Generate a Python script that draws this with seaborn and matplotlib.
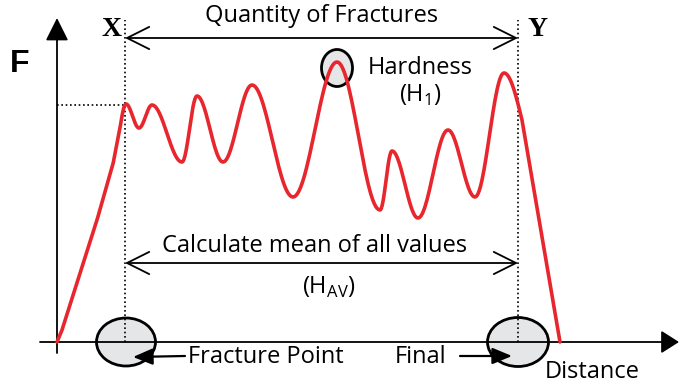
import numpy as np
import pandas as pd
import seaborn as sns
import matplotlib.pyplot as plt
from matplotlib.patches import Ellipse

# knots of the force curve (distance, force) and how each segment bends
knot_dist = [0, 5, 40, 56, 63, 69, 82, 95, 125, 140, 166, 195, 236, 280, 323, 335, 361, 391, 418, 447, 465, 503]
knot_force = [0, 12, 122, 178, 214, 238, 214, 237, 180, 246, 180, 257, 145, 280, 132, 191, 124, 212, 145, 269, 222, 0]
seg_shape = ['lin', 'lin', 'lin', 'lin', 'out'] + ['cos'] * 14 + ['in', 'lin']

x_mark = 68      # fracture point X
y_mark = 461     # final point Y
peak_h1 = (280, 274)

sns.set_style('white')
plt.rcParams['font.family'] = ['Open Sans', 'DejaVu Sans']
plt.rcParams['text.color'] = 'black'
plt.rcParams['mathtext.fontset'] = 'custom'
plt.rcParams['mathtext.rm'] = 'Open Sans'


def ease(t, kind):
    if kind == 'cos':
        return (1 - np.cos(np.pi * t)) / 2
    if kind == 'out':
        return np.sin(np.pi / 2 * t)
    if kind == 'in':
        return 1 - np.cos(np.pi / 2 * t)
    return t


xs, ys = [], []
for i, kind in enumerate(seg_shape):
    t = np.linspace(0, 1, 30)
    xs.extend(knot_dist[i] + (knot_dist[i + 1] - knot_dist[i]) * t)
    ys.extend(knot_force[i] + (knot_force[i + 1] - knot_force[i]) * ease(t, kind))
df = pd.DataFrame({'distance': xs, 'force': ys})

fig = plt.figure(figsize=(6.8, 3.87), dpi=100)
ax = fig.add_axes([0, 0, 1, 1])
ax.set_xlim(-57, 623)
ax.set_ylim(-45, 342)
ax.set_axis_off()

# axes with arrow heads
ax.annotate('', xy=(0, 324), xytext=(0, -11),
            arrowprops=dict(arrowstyle='-|>,head_length=14,head_width=7', mutation_scale=1,
                            color='black', lw=1.3, shrinkA=0, shrinkB=0), zorder=3)
ax.annotate('', xy=(622, 0), xytext=(-17, 0),
            arrowprops=dict(arrowstyle='-|>,head_length=11,head_width=7', mutation_scale=1,
                            color='black', lw=1.3, shrinkA=0, shrinkB=0), zorder=3)

# ellipses
ell_kw = dict(facecolor='#e5e6e8', edgecolor='black', lw=2, zorder=1)
ax.add_patch(Ellipse(peak_h1, 31, 37, **ell_kw))
ax.add_patch(Ellipse((x_mark + 1, 0), 59, 48, **ell_kw))
ax.add_patch(Ellipse((y_mark, 0), 61, 49, **ell_kw))

# dotted guides
dot = dict(color='black', lw=1.2, linestyle=(0, (1, 1.6)), zorder=2)
ax.plot([x_mark, x_mark], [0, 322], **dot)
ax.plot([y_mark, y_mark], [0, 322], **dot)
ax.plot([0, x_mark], [237, 237], **dot)

sns.lineplot(data=df, x='distance', y='force', sort=False, color='#e8262d', lw=2.6, ax=ax, zorder=4)
ax.set_axis_off()

# double arrows
open_arrow = dict(arrowstyle='<->,head_length=16,head_width=8', mutation_scale=1,
                  color='black', lw=1.3, shrinkA=0, shrinkB=0)
ax.annotate('', xy=(x_mark, 304), xytext=(y_mark, 304), arrowprops=open_arrow)
ax.annotate('', xy=(x_mark, 79), xytext=(y_mark, 79), arrowprops=open_arrow)

# small pointer arrows
ptr = dict(arrowstyle='-|>,head_length=12,head_width=5', mutation_scale=1,
           color='black', lw=1.6, shrinkA=0, shrinkB=0)
ax.annotate('', xy=(76, -15), xytext=(128, -14), arrowprops=ptr)
ax.annotate('', xy=(455, -14), xytext=(403, -14), arrowprops=ptr)

fs = 17
ax.text(265, 326, 'Quantity of Fractures', fontsize=fs, ha='center', va='center')
ax.text(258, 96, 'Calculate mean of all values', fontsize=fs, ha='center', va='center')
ax.text(272, 55, r'(H$_\mathrm{AV}$)', fontsize=fs, ha='center', va='center')
ax.text(363, 274, 'Hardness', fontsize=fs, ha='center', va='center')
ax.text(363, 247, r'(H$_\mathrm{1}$)', fontsize=fs, ha='center', va='center')
ax.text(131, -15, 'Fracture Point', fontsize=fs, ha='left', va='center')
ax.text(338, -15, 'Final', fontsize=fs, ha='left', va='center')
ax.text(488, -30, 'Distance', fontsize=fs, ha='left', va='center')
ax.text(-37, 278, 'F', fontsize=23, fontweight='bold', family='Liberation Sans', ha='center', va='center')
ax.text(x_mark - 13, 312, 'X', fontsize=20, fontweight='bold', family='Liberation Serif', ha='center', va='center')
ax.text(y_mark + 19, 312, 'Y', fontsize=20, fontweight='bold', family='Liberation Serif', ha='center', va='center')

fig.savefig('out.png', dpi=100)
